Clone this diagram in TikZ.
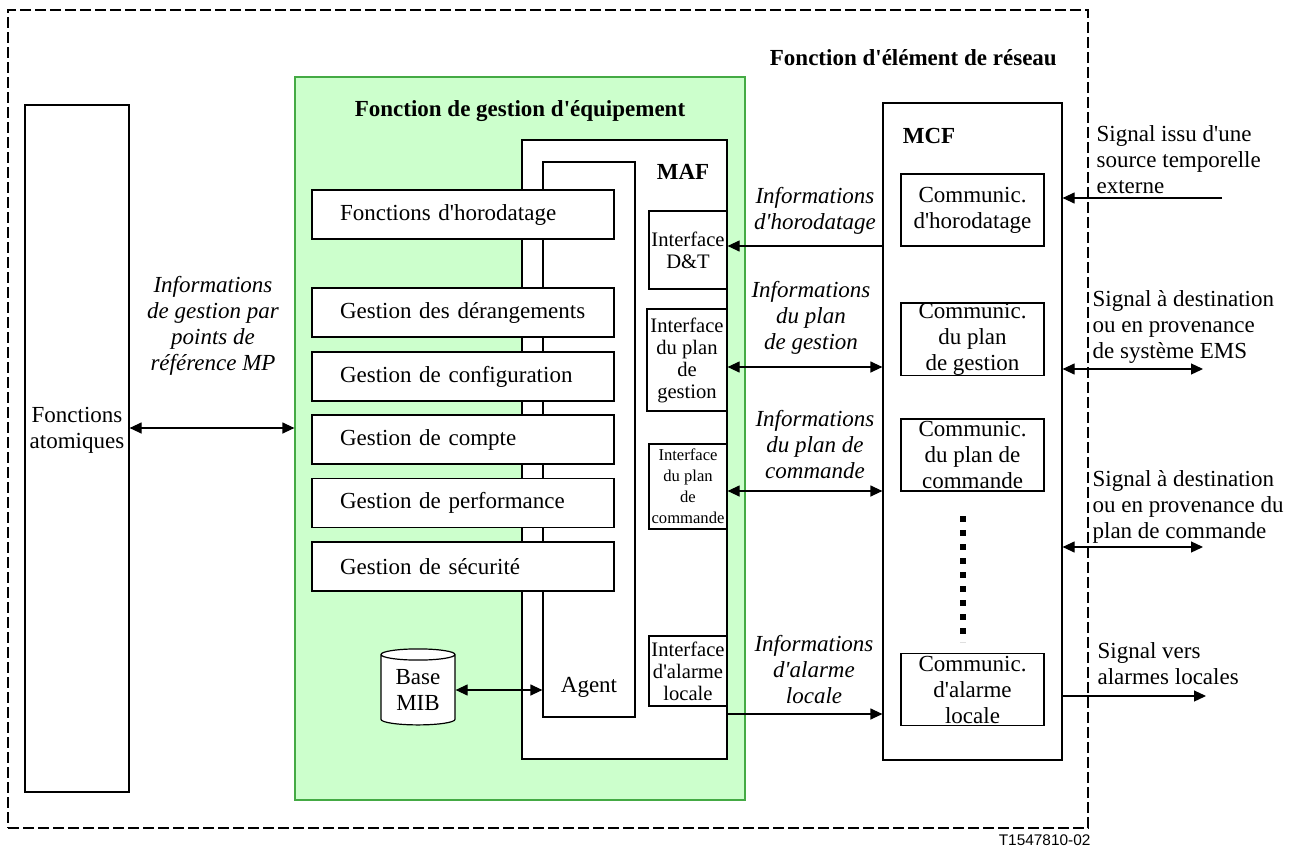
\documentclass[tikz,border=0pt]{standalone}
\usepackage{fontspec}
\setmainfont{Liberation Serif}[Ligatures=TeXOff]
\newfontfamily\figfont{Liberation Sans}
\usetikzlibrary{arrows.meta, shapes.geometric}
\definecolor{emfill}{HTML}{CCFFCC}
\definecolor{emline}{HTML}{44AA44}

\begin{document}
\begin{tikzpicture}[x=0.5pt, y=-0.5pt, >={Triangle[length=6pt,width=5.5pt]},
 line width=0.6pt, font=\fontsize{11.5pt}{13pt}\selectfont,
 box/.style={draw, fill=white, inner sep=0pt},
 fbox/.style={box, minimum width=151pt, minimum height=24.5pt, text width=123pt, align=left},
 ifbox/.style={box, inner xsep=1pt, minimum width=39pt, align=center, font=\fontsize{10.3pt}{11pt}\selectfont},
 cbox/.style={box, minimum width=71.5pt, minimum height=36pt, align=center},
 info/.style={align=center, font=\fontsize{11.5pt}{13pt}\selectfont\itshape},
 sig/.style={anchor=west, align=left, inner sep=0pt},
 title/.style={font=\fontsize{11.5pt}{13pt}\selectfont\bfseries}]

  \useasboundingbox (0,0) rectangle (1297,847);

  \node[draw, line width=1pt, dash pattern=on 5.5pt off 2pt,
        minimum width=540pt, minimum height=409pt] (nef) at (548,419) {};
  \node[title, anchor=east] (neft) at (1064,58) {Fonction d'élément de réseau};

  \node[box, minimum width=52pt, minimum height=343.5pt] (atom) at (77,448.5) {};
  \node[align=center] (atomt) at (77,430) {Fonctions\\atomiques};

  \node[draw=emline, fill=emfill, minimum width=225pt, minimum height=361.5pt] (emf) at (520,438.5) {};
  \node[title] (emft) at (520,111) {Fonction de gestion d'équipement};

  \node[box, minimum width=102.5pt, minimum height=309.5pt] (maf) at (624.5,449.5) {};
  \node[title] (maft) at (683,172) {MAF};
  \node[box, minimum width=46pt, minimum height=277.5pt] (agent) at (589,439.5) {};
  \node (agentt) at (589,687) {Agent};

  \node[fbox] (horo) at (463,214.5) {Fonctions d'horodatage};
  \node[fbox] (der) at (463,312.5) {Gestion des dérangements};
  \node[fbox] (conf) at (463,376.5) {Gestion de configuration};
  \node[fbox] (cpt) at (463,439.5) {Gestion de compte};
  \node[fbox] (perf) at (463,503) {Gestion de performance};
  \node[fbox] (secu) at (463,566.5) {Gestion de sécurité};

  \node[ifbox, minimum height=39pt] (idt) at (688,250) {Interface\\D\&T};
  \node[ifbox, minimum width=40pt, minimum height=51pt] (ipg) at (687,360) {Interface\\du plan\\de\\gestion};
  \node[ifbox, minimum height=42.5pt, font=\fontsize{8.3pt}{10.5pt}\selectfont] (ipc) at (688,486.5) {Interface\\du plan\\de\\commande};
  \node[ifbox, minimum height=35pt] (ial) at (688,671) {Interface\\d'alarme\\locale};

  \node[box, cylinder, shape border rotate=90, aspect=0.25, align=center,
        minimum width=37pt, minimum height=38pt] (mib) at (418,690) {Base\\MIB};

  \node[box, minimum width=89.5pt, minimum height=328.5pt] (mcf) at (972.5,431.5) {};
  \node[title] (mcft) at (929,136) {MCF};
  \node[cbox] (chd) at (972.5,210) {Communic.\\d'horodatage};
  \node[cbox] (cpg) at (972.5,339) {Communic.\\du plan\\de gestion};
  \node[cbox] (cpc) at (972.5,455) {Communic.\\du plan de\\commande};
  \node[cbox] (cal) at (972.5,689.5) {Communic.\\d'alarme\\locale};

  \coordinate (dtop) at (963,516);
  \coordinate (dbot) at (963,642);
  \draw[line width=3pt, dash pattern=on 3pt off 4pt] (dtop) -- (dbot);

  \node[info] (imp) at (213,326) {Informations\\de gestion par\\points de\\référence MP};
  \node[info] (ihd) at (815,211) {Informations\\d'horodatage};
  \node[info] (ipgl) at (811,318) {Informations\\du plan\\de gestion};
  \node[info] (ipcl) at (815,445) {Informations\\du plan de\\commande};
  \node[info] (iall) at (814,670) {Informations\\d'alarme\\locale};

  \node[sig] (ssrc) at (1096,160) {Signal issu d'une\\source temporelle\\externe};
  \node[sig] (sems) at (1092,327) {Signal à destination\\ou en provenance\\de système EMS};
  \node[sig] (scmd) at (1092,507) {Signal à destination\\ou en provenance du\\plan de commande};
  \node[sig] (salm) at (1097,664) {Signal vers\\alarmes locales};

  \node[anchor=east, inner sep=0pt, font=\figfont\fontsize{7.7pt}{9pt}\selectfont] (ref) at (1091,840) {T1547810-02};

  \coordinate (ymp) at (0,428);
  \coordinate (yhd) at (0,246);
  \coordinate (ypg) at (0,367);
  \coordinate (ypc) at (0,491);
  \coordinate (yal) at (0,714);
  \coordinate (src) at (1222,198);
  \coordinate (ems) at (1203,369);
  \coordinate (cmd) at (1203,547);
  \coordinate (alm) at (1206,696);

  \path[<->]
   (atom.east |- ymp) edge (emf.west |- ymp)
   (mib.east) edge (agent.west |- mib.east)
   (maf.east |- ypg) edge (mcf.west |- ypg)
   (maf.east |- ypc) edge (mcf.west |- ypc)
   (mcf.east |- ems) edge (ems)
   (mcf.east |- cmd) edge (cmd);
  \path[->]
   (mcf.west |- yhd) edge (maf.east |- yhd)
   (maf.east |- yal) edge (mcf.west |- yal)
   (src) edge (mcf.east |- src)
   (mcf.east |- alm) edge (alm);
\end{tikzpicture}
\end{document}
